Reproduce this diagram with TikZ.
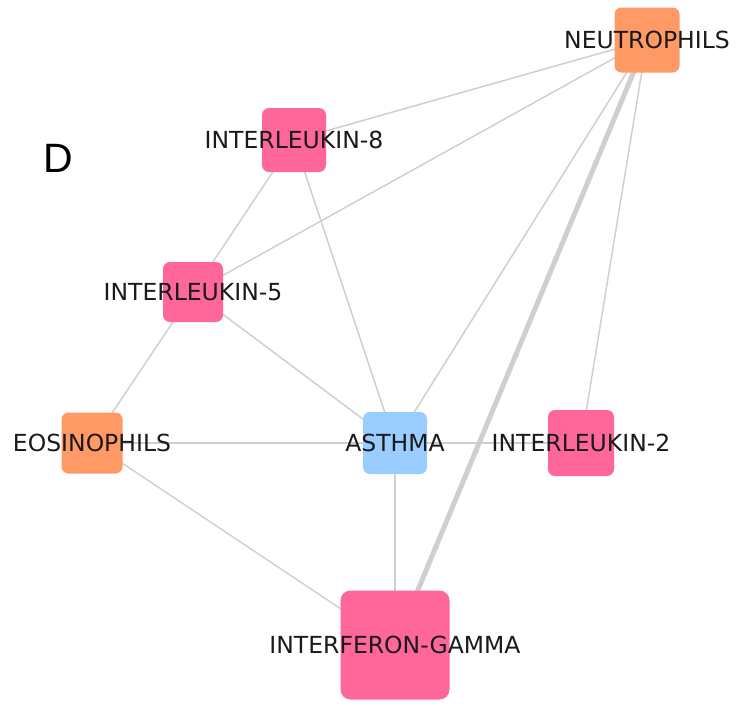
\documentclass[tikz,border=0pt]{standalone}
\usepackage{fontspec}
\setmainfont{DejaVu Sans}
\newfontfamily\panelfont{Liberation Sans}
\usetikzlibrary{backgrounds}
\definecolor{genepink}{HTML}{FF6699}
\definecolor{cellorange}{HTML}{FF9966}
\definecolor{diseaseblue}{HTML}{99CCFF}
\definecolor{edgegray}{HTML}{CFCFCF}
\definecolor{labelgray}{HTML}{1A1A1A}

\begin{document}
\begin{tikzpicture}[x=1pt,y=-1pt,
	nodebox/.style={rounded corners=7pt, inner sep=0pt, minimum size=64pt,
		label={[labelgray,font=\fontsize{23.5}{28}\selectfont]center:#1}},
	gene/.style={nodebox=#1, fill=genepink},
	cell/.style={nodebox=#1, fill=cellorange},
	disease/.style={nodebox=#1, fill=diseaseblue},
	link/.style={edgegray, line width=1.5pt},
	heavylink/.style={edgegray, line width=5pt}]
	\useasboundingbox (0,0) rectangle (737,707);
	
	\node[cell=NEUTROPHILS, minimum size=65pt] (neutro) at (647,40) {};
	\node[gene=INTERLEUKIN-8] (il8) at (294,140) {};
	\node[gene=INTERLEUKIN-5, minimum size=60pt] (il5) at (193,292) {};
	\node[cell=EOSINOPHILS, minimum size=61pt] (eosino) at (92,443) {};
	\node[disease=ASTHMA, minimum width=64pt, minimum height=62pt] (asthma) at (395,443) {};
	\node[gene=INTERLEUKIN-2, minimum size=66pt] (il2) at (581,443) {};
	\node[gene=INTERFERON-GAMMA, minimum size=109pt, rounded corners=10pt] (ifng) at (395,645) {};
	
	\node[font=\panelfont\fontsize{41}{48}\selectfont] (panel) at (58,158) {D};
	
	\begin{scope}[on background layer]
	\draw[link] (neutro.center) -- (il8.center);
	\draw[link] (neutro.center) -- (il5.center);
	\draw[link] (neutro.center) -- (asthma.center);
	\draw[link] (neutro.center) -- (il2.center);
	\draw[heavylink] (neutro.center) -- (ifng.center);
	\draw[link] (il8.center) -- (il5.center);
	\draw[link] (il8.center) -- (asthma.center);
	\draw[link] (il5.center) -- (asthma.center);
	\draw[link] (il5.center) -- (eosino.center);
	\draw[link] (eosino.center) -- (asthma.center);
	\draw[link] (eosino.center) -- (ifng.center);
	\draw[link] (asthma.center) -- (il2.center);
	\draw[link] (asthma.center) -- (ifng.center);
	\end{scope}
	
\end{tikzpicture}
\end{document}
